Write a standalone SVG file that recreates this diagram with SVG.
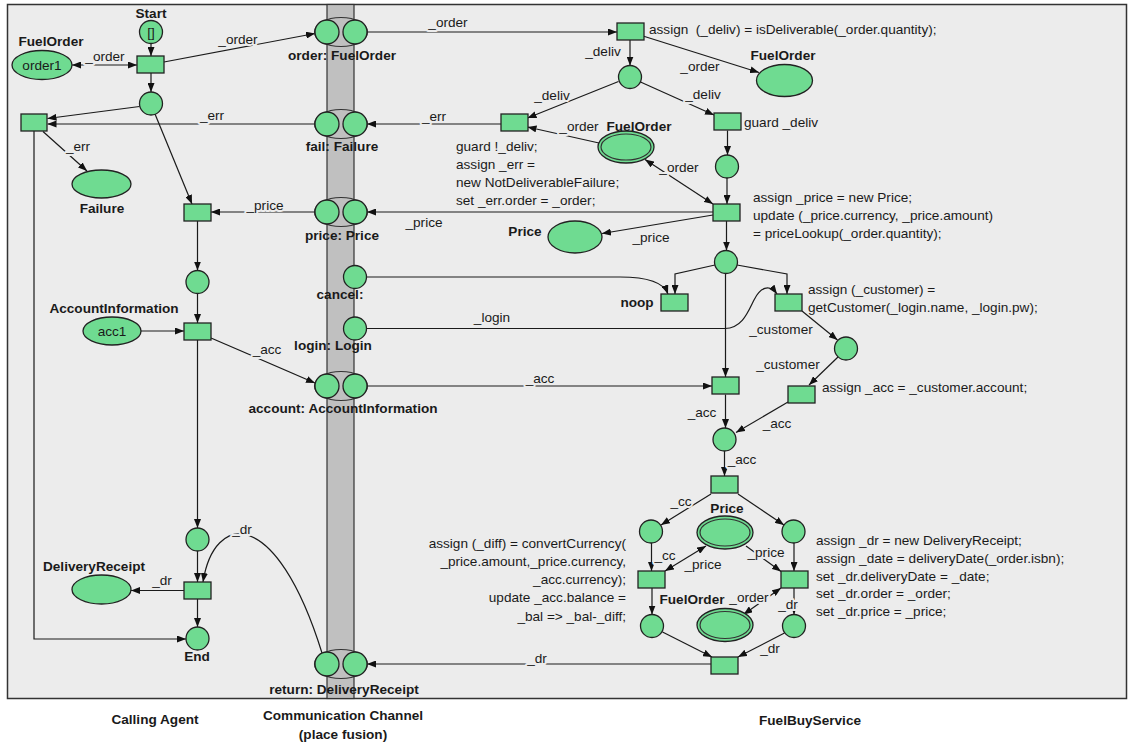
<svg xmlns="http://www.w3.org/2000/svg" width="1128" height="742" viewBox="0 0 1128 742">
<defs>
<marker id="ah" markerUnits="userSpaceOnUse" markerWidth="9" markerHeight="7" refX="9" refY="3.5" orient="auto-start-reverse"><path d="M0,0 L9,3.5 L0,7 z" fill="#111"/></marker>
<style>
.t{font-family:"Liberation Sans",Arial,sans-serif;font-size:13.6px;fill:#1a1a1a}
.b{font-weight:bold}
.m{text-anchor:middle}
.e{text-anchor:end}
.lb{paint-order:stroke;stroke:#ececec;stroke-width:4px;stroke-linejoin:round}
.p{fill:#6fdb91;stroke:#222;stroke-width:1.3}
.fe{fill:none;stroke:#333;stroke-width:1.2}
.c{fill:none;stroke:#1a1a1a;stroke-width:1.2;marker-end:url(#ah)}
.cb{fill:none;stroke:#1a1a1a;stroke-width:1.2;marker-end:url(#ah);marker-start:url(#ah)}
.n{fill:none;stroke:#1a1a1a;stroke-width:1.2}
</style>
</defs>
<rect x="0" y="0" width="1128" height="742" fill="#ffffff"/>
<rect x="7.5" y="4.5" width="1119" height="694" fill="#ececec" stroke="#333" stroke-width="1.5"/>
<rect x="327" y="4.5" width="27" height="694" fill="#c0c0c0" stroke="#333" stroke-width="1.2"/>

<g id="connectors">
<line class="c" x1="151" y1="43.5" x2="151" y2="56"/>
<line class="cb" x1="72" y1="65" x2="137" y2="65"/>
<line class="c" x1="164" y1="62" x2="315" y2="33.5"/>
<line class="c" x1="151" y1="73" x2="151" y2="92"/>
<line class="c" x1="139.5" y1="106.5" x2="47.5" y2="118.5"/>
<line class="c" x1="315" y1="124" x2="47.5" y2="124"/>
<line class="c" x1="43" y1="131.5" x2="87" y2="171"/>
<line class="c" x1="155" y1="114" x2="192" y2="204"/>
<line class="c" x1="315" y1="212" x2="211" y2="212"/>
<line class="c" x1="197.5" y1="221" x2="197.5" y2="270.5"/>
<line class="c" x1="197.5" y1="293.5" x2="197.5" y2="323"/>
<line class="c" x1="141" y1="331" x2="184" y2="331"/>
<line class="c" x1="211" y1="338" x2="315" y2="383"/>
<line class="c" x1="197.5" y1="340" x2="197.5" y2="528"/>
<line class="c" x1="197.5" y1="551" x2="197.5" y2="582"/>
<line class="c" x1="184" y1="590.5" x2="131" y2="590.5"/>
<line class="c" x1="197.5" y1="599" x2="197.5" y2="627"/>
<polyline class="c" points="34,131 34,639 186,639"/>
<path class="c" d="M322,653 C276,505 214,512 203,582"/>

<line class="c" x1="367" y1="32" x2="617" y2="32"/>
<line class="c" x1="643" y1="36" x2="759" y2="72.5"/>
<line class="c" x1="630" y1="40" x2="630" y2="65.5"/>
<line class="c" x1="618.5" y1="81.5" x2="527.5" y2="118"/>
<line class="c" x1="501" y1="124" x2="367" y2="124"/>
<line class="c" x1="640.5" y1="82" x2="714" y2="115"/>
<line class="c" x1="599" y1="143" x2="527.5" y2="127"/>
<line class="c" x1="727.5" y1="130.5" x2="727.5" y2="155"/>
<line class="cb" x1="645" y1="159.5" x2="713" y2="204"/>
<line class="c" x1="727" y1="178" x2="727" y2="204"/>
<line class="c" x1="713" y1="212" x2="367" y2="212"/>
<line class="c" x1="713" y1="215" x2="602" y2="233.5"/>
<line class="c" x1="726.5" y1="221" x2="726.5" y2="250.5"/>
<polyline class="c" points="715,265 675,274 675,294"/>
<polyline class="c" points="737,265 787,274 787,294"/>
<path class="c" d="M366,277 L620,277 C648,277 664,283 668,294"/>
<path class="c" d="M366,328.5 L725,328.5 C742,328.5 748,312 754,300 C760,288 769,283 777,294"/>
<line class="c" x1="725.5" y1="273.5" x2="725.5" y2="377"/>
<line class="c" x1="367" y1="386" x2="712" y2="386"/>
<line class="c" x1="802" y1="311" x2="837.5" y2="340"/>
<line class="c" x1="838" y1="357" x2="809" y2="385"/>
<line class="c" x1="725.5" y1="394.5" x2="725.5" y2="428"/>
<line class="c" x1="788" y1="402" x2="736" y2="432.5"/>
<line class="c" x1="724.5" y1="451" x2="724.5" y2="476"/>
<line class="c" x1="711" y1="494" x2="661" y2="525"/>
<line class="c" x1="738" y1="494" x2="784" y2="525"/>
<line class="c" x1="651.5" y1="543" x2="651.5" y2="571"/>
<line class="cb" x1="706" y1="546" x2="665" y2="571"/>
<line class="c" x1="746" y1="546" x2="781" y2="571.5"/>
<line class="c" x1="794" y1="543" x2="794" y2="571"/>
<line class="cb" x1="781" y1="588" x2="743.5" y2="614.5"/>
<line class="c" x1="652" y1="588" x2="652" y2="614.5"/>
<line class="c" x1="794" y1="588" x2="794" y2="614.5"/>
<line class="c" x1="662.5" y1="632" x2="712" y2="657"/>
<line class="c" x1="784.5" y1="633" x2="738" y2="657"/>
<line class="c" x1="711" y1="664" x2="367" y2="664"/>

<g class="t lb">
<text class="m" x="105" y="61">_order</text>
<text class="m" x="238" y="44">_order</text>
<text class="m" x="212" y="120">_err</text>
<text class="m" x="78" y="151">_err</text>
<text class="m" x="265" y="210">_price</text>
<text class="m" x="267" y="354">_acc</text>
<text class="m" x="162" y="585">_dr</text>
<text class="m" x="242" y="534">_dr</text>
<text class="m" x="448" y="27">_order</text>
<text class="m" x="700" y="71">_order</text>
<text class="m" x="603" y="56">_deliv</text>
<text class="m" x="552" y="100">_deliv</text>
<text class="m" x="434" y="121">_err</text>
<text class="m" x="703" y="99">_deliv</text>
<text class="m" x="579" y="131">_order</text>
<text class="m" x="679" y="172">_order</text>
<text class="m" x="424" y="227">_price</text>
<text class="m" x="651" y="242">_price</text>
<text class="m" x="492" y="322">_login</text>
<text class="m" x="540" y="383">_acc</text>
<text class="m" x="781" y="334">_customer</text>
<text class="m" x="788" y="369">_customer</text>
<text class="m" x="702" y="417">_acc</text>
<text class="m" x="777" y="428">_acc</text>
<text class="m" x="742" y="464">_acc</text>
<text class="m" x="681" y="506">_cc</text>
<text class="m" x="665" y="560">_cc</text>
<text class="m" x="703" y="569">_price</text>
<text class="m" x="766" y="557">_price</text>
<text class="m" x="749" y="602">_order</text>
<text class="m" x="788" y="609">_dr</text>
<text class="m" x="770" y="653">_dr</text>
<text class="m" x="537" y="663">_dr</text>
</g>
</g>

<g id="fusion-order"><ellipse class="fe" cx="341" cy="32" rx="26.5" ry="14.5"/><circle class="p" cx="327" cy="32" r="12"/><circle class="p" cx="355" cy="32" r="12"/><text class="t b m" x="342" y="60">order: FuelOrder</text></g>
<g id="fusion-fail"><ellipse class="fe" cx="341" cy="124" rx="26.5" ry="14.5"/><circle class="p" cx="327" cy="124" r="12"/><circle class="p" cx="355" cy="124" r="12"/><text class="t b m" x="342" y="151">fail: Failure</text></g>
<g id="fusion-price"><ellipse class="fe" cx="341" cy="212" rx="26.5" ry="14.5"/><circle class="p" cx="327" cy="212" r="12"/><circle class="p" cx="355" cy="212" r="12"/><text class="t b m" x="342" y="240">price: Price</text></g>
<g id="fusion-cancel"><circle class="p" cx="355" cy="277" r="11.5"/><text class="t b m" x="340" y="299">cancel:</text></g>
<g id="fusion-login"><circle class="p" cx="355" cy="328.5" r="11.5"/><text class="t b m" x="333" y="350">login: Login</text></g>
<g id="fusion-account"><ellipse class="fe" cx="341" cy="386" rx="26.5" ry="14.5"/><circle class="p" cx="327" cy="386" r="12"/><circle class="p" cx="355" cy="386" r="12"/><text class="t b m" x="343" y="413">account: AccountInformation</text></g>
<g id="fusion-return"><ellipse class="fe" cx="341" cy="664" rx="26.5" ry="14.5"/><circle class="p" cx="327" cy="664" r="12"/><circle class="p" cx="355" cy="664" r="12"/><text class="t b m" x="344" y="694">return: DeliveryReceipt</text></g>

<g id="start"><circle class="p" cx="151" cy="32" r="11.5"/><text class="t m" x="151" y="37">[]</text><text class="t b m" x="151" y="18">Start</text></g>
<g id="t1"><rect class="p" x="137" y="56" width="27" height="17"/></g>
<g id="order1"><ellipse class="p" cx="42" cy="65" rx="30" ry="14.5"/><text class="t m" x="42" y="70">order1</text><text class="t b m" x="51" y="46">FuelOrder</text></g>
<g id="p1"><circle class="p" cx="151" cy="103.5" r="11.5"/></g>
<g id="t2"><rect class="p" x="21" y="114" width="26" height="17"/></g>
<g id="failure"><ellipse class="p" cx="101.5" cy="184" rx="29.5" ry="14"/><text class="t b m" x="102" y="213">Failure</text></g>
<g id="t3"><rect class="p" x="184" y="204" width="27" height="17"/></g>
<g id="p2"><circle class="p" cx="197.5" cy="282" r="11.5"/></g>
<g id="t4"><rect class="p" x="184" y="323" width="27" height="17"/></g>
<g id="acc1"><ellipse class="p" cx="112" cy="331" rx="29" ry="14"/><text class="t m" x="112" y="336">acc1</text><text class="t b m" x="114" y="313">AccountInformation</text></g>
<g id="p3"><circle class="p" cx="197.5" cy="539.5" r="11.5"/></g>
<g id="t5"><rect class="p" x="184" y="582" width="27" height="17"/></g>
<g id="deliveryreceipt"><ellipse class="p" cx="101.5" cy="589.5" rx="29.5" ry="14.5"/><text class="t b m" x="94" y="571">DeliveryReceipt</text></g>
<g id="end"><circle class="p" cx="197.5" cy="638.5" r="11.5"/><text class="t b m" x="197" y="661">End</text></g>

<g id="t6"><rect class="p" x="617" y="23" width="27" height="17"/><text class="t" x="649" y="34" xml:space="preserve">assign  (_deliv) = isDeliverable(_order.quantity);</text></g>
<g id="fuelorder-top"><ellipse class="p" cx="784.5" cy="80.5" rx="28" ry="16"/><text class="t b m" x="783" y="60">FuelOrder</text></g>
<g id="p4"><circle class="p" cx="630" cy="77" r="11.5"/></g>
<g id="t7"><rect class="p" x="501" y="114" width="27" height="17"/>
<text class="t" x="456" y="151">guard !_deliv;</text>
<text class="t" x="456" y="169">assign _err =</text>
<text class="t" x="456" y="187">new NotDeliverableFailure;</text>
<text class="t" x="456" y="205">set _err.order = _order;</text></g>
<g id="t8"><rect class="p" x="714" y="113" width="27" height="17"/><text class="t" x="744" y="127">guard _deliv</text></g>
<g id="fuelorder-mid"><ellipse class="p" cx="626" cy="147" rx="28" ry="16"/><ellipse class="fe" cx="626" cy="147" rx="25" ry="13" stroke="#222"/><text class="t b m" x="639" y="131">FuelOrder</text></g>
<g id="p5"><circle class="p" cx="727" cy="166.5" r="11.5"/></g>
<g id="t9"><rect class="p" x="713" y="204" width="27" height="17"/>
<text class="t" x="753" y="202">assign _price = new Price;</text>
<text class="t" x="753" y="220">update (_price.currency, _price.amount)</text>
<text class="t" x="753" y="238">= priceLookup(_order.quantity);</text></g>
<g id="price-top"><ellipse class="p" cx="575" cy="237" rx="27" ry="16"/><text class="t b m" x="525" y="236">Price</text></g>
<g id="p6"><circle class="p" cx="726" cy="262" r="11.5"/></g>
<g id="noop"><rect class="p" x="661" y="294" width="27" height="17"/><text class="t b m" x="637" y="307">noop</text></g>
<g id="t11"><rect class="p" x="775" y="294" width="27" height="17"/>
<text class="t" x="808" y="294">assign (_customer) =</text>
<text class="t" x="808" y="312">getCustomer(_login.name, _login.pw);</text></g>
<g id="p7"><circle class="p" cx="846" cy="348.5" r="11.5"/></g>
<g id="t12"><rect class="p" x="712" y="377" width="27" height="17"/></g>
<g id="t13"><rect class="p" x="788" y="386" width="27" height="17"/><text class="t" x="822" y="392">assign _acc = _customer.account;</text></g>
<g id="p8"><circle class="p" cx="724.5" cy="439.5" r="11.5"/></g>
<g id="t14"><rect class="p" x="711" y="476" width="27" height="17"/></g>
<g id="p9"><circle class="p" cx="651" cy="531.5" r="11.5"/></g>
<g id="p10"><circle class="p" cx="793.5" cy="531.5" r="11.5"/></g>
<g id="price-bottom"><ellipse class="p" cx="725" cy="532.5" rx="28" ry="16.5"/><ellipse class="fe" cx="725" cy="532.5" rx="25" ry="13.5" stroke="#222"/><text class="t b m" x="727" y="513">Price</text></g>
<g id="t15"><rect class="p" x="638" y="571" width="27" height="17"/>
<text class="t e" x="626" y="548">assign (_diff) = convertCurrency(</text>
<text class="t e" x="626" y="566">_price.amount,_price.currency,</text>
<text class="t e" x="626" y="584">_acc.currency);</text>
<text class="t e" x="626" y="602">update _acc.balance =</text>
<text class="t e" x="626" y="621">_bal =&gt; _bal-_diff;</text></g>
<g id="t16"><rect class="p" x="781" y="571" width="27" height="17"/>
<text class="t" x="816" y="545">assign _dr = new DeliveryReceipt;</text>
<text class="t" x="816" y="563">assign _date = deliveryDate(_order.isbn);</text>
<text class="t" x="816" y="581">set _dr.deliveryDate = _date;</text>
<text class="t" x="816" y="598">set _dr.order = _order;</text>
<text class="t" x="816" y="616">set _dr.price = _price;</text></g>
<g id="fuelorder-bottom"><ellipse class="p" cx="725" cy="625" rx="28" ry="16.5"/><ellipse class="fe" cx="725" cy="625" rx="25" ry="13.5" stroke="#222"/><text class="t b m" x="692" y="604">FuelOrder</text></g>
<g id="p11"><circle class="p" cx="652" cy="626" r="11.5"/></g>
<g id="p12"><circle class="p" cx="794" cy="626" r="11.5"/></g>
<g id="t17"><rect class="p" x="711" y="657" width="27" height="17"/></g>

<g id="captions">
<text class="t b m" x="155" y="724">Calling Agent</text>
<text class="t b m" x="343" y="720">Communication Channel</text>
<text class="t b m" x="343" y="739">(place fusion)</text>
<text class="t b m" x="810" y="725">FuelBuyService</text>
</g>
</svg>
